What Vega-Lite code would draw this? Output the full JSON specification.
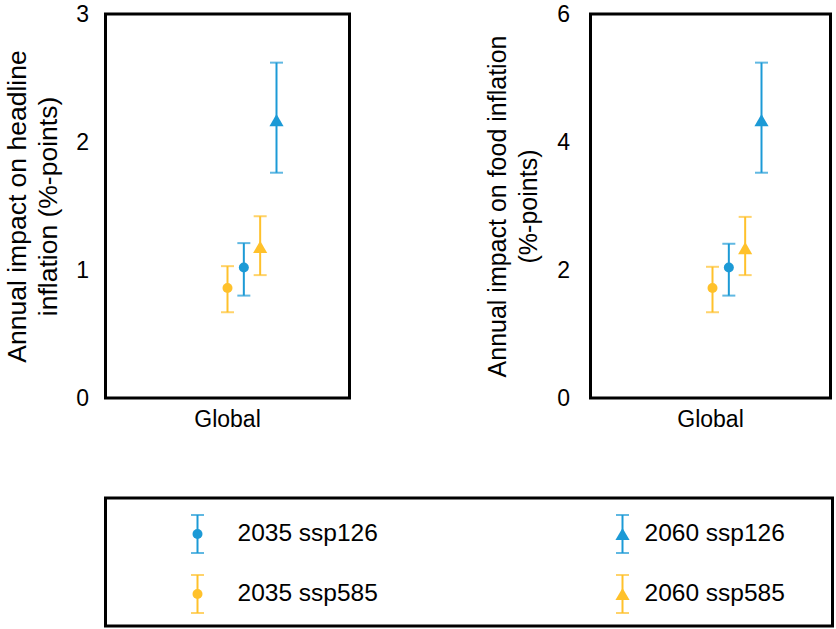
{
  "$schema": "https://vega.github.io/schema/vega-lite/v6.json",
  "background": "white",
  "padding": {"left": 2.5, "top": 1, "right": 0, "bottom": 0},
  "config": {
    "font": "Liberation Sans",
    "view": {"stroke": "black", "strokeWidth": 3},
    "axis": {"grid": false, "domain": false, "ticks": false, "labelColor": "black", "titleColor": "black", "titleFontWeight": "normal", "labelFont": "Liberation Sans", "titleFont": "Liberation Sans"}
  },
  "datasets": {
    "points": [
      {"panel": "headline", "region": "Global", "series": "2035 ssp585", "year": "2035", "scenario": "ssp585", "value": 0.86, "lo": 0.67, "hi": 1.03},
      {"panel": "headline", "region": "Global", "series": "2035 ssp126", "year": "2035", "scenario": "ssp126", "value": 1.02, "lo": 0.80, "hi": 1.21},
      {"panel": "headline", "region": "Global", "series": "2060 ssp585", "year": "2060", "scenario": "ssp585", "value": 1.18, "lo": 0.96, "hi": 1.42},
      {"panel": "headline", "region": "Global", "series": "2060 ssp126", "year": "2060", "scenario": "ssp126", "value": 2.17, "lo": 1.76, "hi": 2.62},
      {"panel": "food", "region": "Global", "series": "2035 ssp585", "year": "2035", "scenario": "ssp585", "value": 1.72, "lo": 1.34, "hi": 2.05},
      {"panel": "food", "region": "Global", "series": "2035 ssp126", "year": "2035", "scenario": "ssp126", "value": 2.04, "lo": 1.60, "hi": 2.41},
      {"panel": "food", "region": "Global", "series": "2060 ssp585", "year": "2060", "scenario": "ssp585", "value": 2.34, "lo": 1.92, "hi": 2.83},
      {"panel": "food", "region": "Global", "series": "2060 ssp126", "year": "2060", "scenario": "ssp126", "value": 4.34, "lo": 3.52, "hi": 5.24}
    ],
    "legend": [
      {"label": "2035 ssp126", "year": "2035", "scenario": "ssp126"},
      {"label": "2035 ssp585", "year": "2035", "scenario": "ssp585"},
      {"label": "2060 ssp126", "year": "2060", "scenario": "ssp126"},
      {"label": "2060 ssp585", "year": "2060", "scenario": "ssp585"}
    ]
  },
  "spacing": 63,
  "vconcat": [
    {
      "spacing": 132,
      "hconcat": [
        {
          "width": 244,
          "height": 384,
          "data": {"name": "points"},
          "transform": [{"filter": "datum.panel == 'headline'"}],
          "encoding": {
            "x": {"field": "region", "type": "nominal", "title": null, "scale": {"paddingInner": 0, "paddingOuter": 0}, "axis": {"labelAngle": 0, "labelFontSize": 23, "labelPadding": 10}},
            "xOffset": {"field": "series", "type": "nominal", "scale": {"type": "point", "padding": 0, "domain": ["2035 ssp585", "2035 ssp126", "2060 ssp585", "2060 ssp126"], "range": [122, 171]}},
            "color": {"field": "scenario", "type": "nominal", "scale": {"domain": ["ssp126", "ssp585"], "range": ["#1c9ad6", "#ffc12b"]}, "legend": null}
          },
          "layer": [
            {
              "mark": {"type": "rule", "strokeWidth": 2},
              "encoding": {
                "y": {"field": "lo", "type": "quantitative", "title": ["Annual impact on headline", "inflation (%-points)"], "scale": {"domain": [0, 3], "nice": false},
                  "axis": {"values": [0, 1, 2, 3], "format": "d", "labelFontSize": 23, "labelPadding": 17, "titleFontSize": 26.5, "titlePadding": 13, "titleLineHeight": 31}},
                "y2": {"field": "hi"}
              }
            },
            {
              "mark": {"type": "tick", "thickness": 2, "size": 13, "orient": "horizontal"},
              "encoding": {"y": {"field": "lo", "type": "quantitative", "title": ["Annual impact on headline", "inflation (%-points)"]}}
            },
            {
              "mark": {"type": "tick", "thickness": 2, "size": 13, "orient": "horizontal"},
              "encoding": {"y": {"field": "hi", "type": "quantitative", "title": ["Annual impact on headline", "inflation (%-points)"]}}
            },
            {
              "mark": {"type": "point", "filled": true, "opacity": 1},
              "encoding": {
                "y": {"field": "value", "type": "quantitative", "title": ["Annual impact on headline", "inflation (%-points)"]},
                "shape": {"field": "year", "type": "nominal", "scale": {"domain": ["2035", "2060"], "range": ["circle", "triangle-up"]}, "legend": null},
                "size": {"field": "year", "type": "ordinal", "scale": {"domain": ["2035", "2060"], "range": [100, 200]}, "legend": null}
              }
            }
          ]
        },
        {
          "width": 240,
          "height": 384,
          "data": {"name": "points"},
          "transform": [{"filter": "datum.panel == 'food'"}],
          "encoding": {
            "x": {"field": "region", "type": "nominal", "title": null, "scale": {"paddingInner": 0, "paddingOuter": 0}, "axis": {"labelAngle": 0, "labelFontSize": 23, "labelPadding": 10}},
            "xOffset": {"field": "series", "type": "nominal", "scale": {"type": "point", "padding": 0, "domain": ["2035 ssp585", "2035 ssp126", "2060 ssp585", "2060 ssp126"], "range": [121, 170]}},
            "color": {"field": "scenario", "type": "nominal", "scale": {"domain": ["ssp126", "ssp585"], "range": ["#1c9ad6", "#ffc12b"]}, "legend": null}
          },
          "layer": [
            {
              "mark": {"type": "rule", "strokeWidth": 2},
              "encoding": {
                "y": {"field": "lo", "type": "quantitative", "title": ["Annual impact on food inflation", "(%-points)"], "scale": {"domain": [0, 6], "nice": false},
                  "axis": {"values": [0, 2, 4, 6], "format": "d", "labelFontSize": 23, "labelPadding": 21, "titleFontSize": 25, "titlePadding": 15, "titleLineHeight": 31}},
                "y2": {"field": "hi"}
              }
            },
            {
              "mark": {"type": "tick", "thickness": 2, "size": 13, "orient": "horizontal"},
              "encoding": {"y": {"field": "lo", "type": "quantitative", "title": ["Annual impact on food inflation", "(%-points)"]}}
            },
            {
              "mark": {"type": "tick", "thickness": 2, "size": 13, "orient": "horizontal"},
              "encoding": {"y": {"field": "hi", "type": "quantitative", "title": ["Annual impact on food inflation", "(%-points)"]}}
            },
            {
              "mark": {"type": "point", "filled": true, "opacity": 1},
              "encoding": {
                "y": {"field": "value", "type": "quantitative", "title": ["Annual impact on food inflation", "(%-points)"]},
                "shape": {"field": "year", "type": "nominal", "scale": {"domain": ["2035", "2060"], "range": ["circle", "triangle-up"]}, "legend": null},
                "size": {"field": "year", "type": "ordinal", "scale": {"domain": ["2035", "2060"], "range": [100, 200]}, "legend": null}
              }
            }
          ]
        }
      ]
    },
    {
      "width": 727,
      "height": 128,
      "data": {"name": "legend"},
      "encoding": {
        "y": {"field": "scenario", "type": "nominal", "scale": {"type": "point", "padding": 0, "domain": ["ssp126", "ssp585"], "range": [36, 96]},
          "axis": {"title": "x", "titleColor": "rgba(0,0,0,0)", "labels": false, "minExtent": 0, "maxExtent": 0, "titlePadding": 70, "titleFontSize": 20}},
        "color": {"field": "scenario", "type": "nominal", "scale": {"domain": ["ssp126", "ssp585"], "range": ["#1c9ad6", "#ffc12b"]}, "legend": null}
      },
      "layer": [
        {
          "mark": {"type": "rule", "strokeWidth": 2, "yOffset": -19, "y2Offset": 19},
          "encoding": {
            "x": {"field": "year", "type": "ordinal", "scale": {"type": "point", "padding": 0, "domain": ["2035", "2060"], "range": [92, 517]}, "axis": null},
            "y2": {"field": "scenario"}
          }
        },
        {
          "mark": {"type": "tick", "thickness": 2, "size": 13, "orient": "horizontal", "yOffset": -19},
          "encoding": {"x": {"field": "year", "type": "ordinal", "scale": {"type": "point", "padding": 0, "domain": ["2035", "2060"], "range": [92, 517]}, "axis": null}}
        },
        {
          "mark": {"type": "tick", "thickness": 2, "size": 13, "orient": "horizontal", "yOffset": 19},
          "encoding": {"x": {"field": "year", "type": "ordinal", "scale": {"type": "point", "padding": 0, "domain": ["2035", "2060"], "range": [92, 517]}, "axis": null}}
        },
        {
          "mark": {"type": "point", "filled": true, "opacity": 1},
          "encoding": {
            "x": {"field": "year", "type": "ordinal", "scale": {"type": "point", "padding": 0, "domain": ["2035", "2060"], "range": [92, 517]}, "axis": null},
            "shape": {"field": "year", "type": "nominal", "scale": {"domain": ["2035", "2060"], "range": ["circle", "M0,-1L0.65,1L-0.65,1Z"]}, "legend": null},
            "size": {"field": "year", "type": "ordinal", "scale": {"domain": ["2035", "2060"], "range": [100, 170]}, "legend": null}
          }
        },
        {
          "mark": {"type": "text", "align": "left", "baseline": "middle", "fontSize": 24.5, "color": "black"},
          "encoding": {
            "x": {"field": "year", "type": "ordinal", "scale": {"type": "point", "padding": 0, "domain": ["2035", "2060"], "range": [132, 539]}, "axis": null},
            "text": {"field": "label"},
            "color": {"value": "black"}
          }
        }
      ],
      "resolve": {"scale": {"x": "independent"}}
    }
  ]
}
